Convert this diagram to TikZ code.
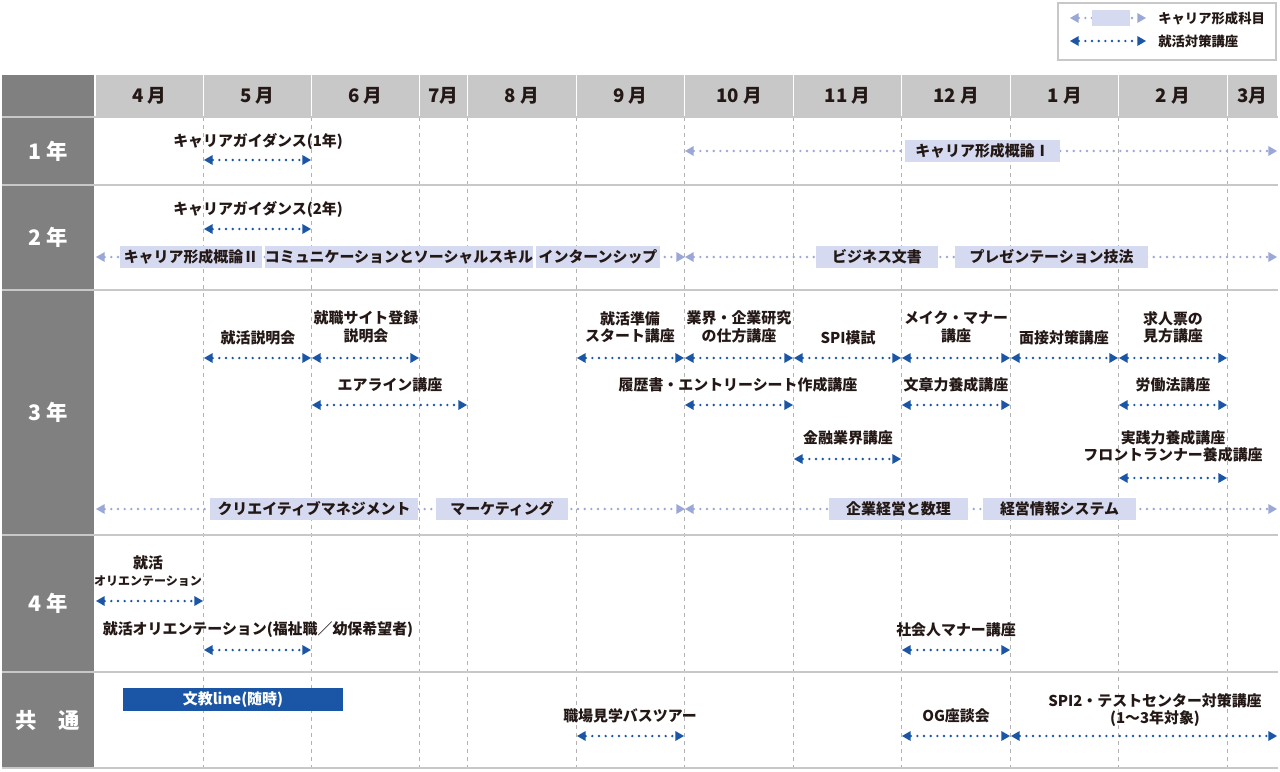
\documentclass[tikz,border=0pt]{standalone}
\usepackage{fontspec}
\setmainfont{Noto Sans CJK JP}
\usetikzlibrary{arrows.meta}
\definecolor{dblue}{HTML}{1A55A6}
\definecolor{lblue}{HTML}{9AA8D8}
\definecolor{lbox}{HTML}{D6DAF0}
\definecolor{hdr}{HTML}{C8C8C8}
\definecolor{side}{HTML}{808080}
\definecolor{txt}{HTML}{231815}
\tikzset{
 darr/.style={draw=dblue,line width=2pt,line cap=round,dash pattern=on 0pt off 5pt,{Triangle[length=6.5pt,width=7.5pt,fill=dblue,line width=0pt]}-{Triangle[length=6.5pt,width=7.5pt,fill=dblue,line width=0pt]}},
 larr/.style={draw=lblue,line width=2pt,line cap=round,dash pattern=on 0pt off 5pt,{Triangle[length=6.5pt,width=7.5pt,fill=lblue,line width=0pt]}-{Triangle[length=6.5pt,width=7.5pt,fill=lblue,line width=0pt]}},
 lab/.style={font=\bfseries\fontsize{11.2}{13}\selectfont,text=txt,align=center,inner sep=0pt},
 cbox/.style={fill=lbox,font=\bfseries\fontsize{11.2}{13}\selectfont,text=txt,inner sep=0pt,minimum height=16.5pt},
 mon/.style={font=\bfseries\fontsize{14}{14}\selectfont,text=txt},
 yr/.style={font=\bfseries\fontsize{16}{16}\selectfont,text=white},
 vl/.style={draw=gray!60,dash pattern=on 3pt off 3pt,line width=0.5pt},
}
\newcommand{\DA}[4]{\coordinate (#4a) at (#1,#3); \coordinate (#4b) at (#2,#3); \draw[darr] (#4a) -- (#4b);}
\newcommand{\LA}[4]{\coordinate (#4a) at (#1,#3); \coordinate (#4b) at (#2,#3); \draw[larr] (#4a) -- (#4b);}
\newcommand{\CB}[5]{\node[cbox,minimum width={(#2-#1)*0.75pt}] (#5) at ({(#1+#2)/2},#3) {#4};}
\begin{document}
\begin{tikzpicture}[x=0.75pt,y=-0.75pt]
\useasboundingbox (0,0) rectangle (1280,771);
\fill[white] (0,0) rectangle (1280,771);
% legend
\draw[hdr,line width=1.2pt] (1058,3) rectangle (1276,60);
\LA{1070}{1146}{18}{lg1}
\node[fill=lbox,minimum width=38*0.75pt,minimum height=12pt,inner sep=0pt] (lgb) at (1111,18) {};
\DA{1070}{1146}{41}{lg2}
\node[lab,anchor=west,font=\bfseries\fontsize{10}{11}\selectfont] (lgt1) at (1158,18) {キャリア形成科目};
\node[lab,anchor=west,font=\bfseries\fontsize{10}{11}\selectfont] (lgt2) at (1158,41) {就活対策講座};
% header
\fill[side] (2,75) rectangle (94,116);
\foreach \a/\b/\t/\n in {96/203/{4 月}/m4,204/311/{5 月}/m5,312/419/{6 月}/m6,420/467/{7月}/m7,468/576/{8 月}/m8,577/684/{9 月}/m9,685/793/{10 月}/m10,794/901/{11 月}/m11,902/1010/{12 月}/m12,1011/1118/{1 月}/m1,1119/1227/{2 月}/m2,1228/1277/{3月}/m3}{
  \fill[hdr] (\a,75) rectangle (\b,116);
  \node[mon] (\n) at ({(\a+\b)/2},96) {\t};
}
% side column
\foreach \a/\b/\t/\n in {118/184/{1 年}/y1,186/289/{2 年}/y2,291/534/{3 年}/y3,536/671/{4 年}/y4,673/767/{共　通}/y5}{
  \fill[side] (2,\a) rectangle (94,\b);
  \node[yr] (\n) at (48,{(\a+\b)/2}) {\t};
}
% vertical dashed lines
\foreach \x in {203.5,311.5,419.5,467.5,576.5,684.5,793.5,901.5,1010.5,1118.5,1227.5}{
  \draw[vl] (\x,117) -- (\x,767);
}
% row separators
\foreach \y in {117,185,290,535,672,768}{
  \draw[hdr,line width=1.5pt] (2,\y) -- (1278,\y);
}
% Row 1
\node[lab] (t1) at (258,141) {キャリアガイダンス(1年)};
\DA{204}{311}{160}{a1}
\LA{685}{1277}{151}{a2}
\CB{905}{1060}{151}{キャリア形成概論Ⅰ}{b1}
% Row 2
\node[lab] (t2) at (258,209) {キャリアガイダンス(2年)};
\DA{204}{311}{229}{a3}
\LA{96}{685}{257}{a4}
\CB{120}{262}{257}{キャリア形成概論Ⅱ}{b2}
\CB{270}{528}{257}{コミュニケーションとソーシャルスキル}{b3}
\CB{536}{660}{257}{インターンシップ}{b4}
\LA{685}{1277}{257}{a5}
\CB{816}{938}{257}{ビジネス文書}{b5}
\CB{955}{1148}{257}{プレゼンテーション技法}{b6}
% Row 3
\DA{204}{311}{358}{c1}\node[lab] (u1) at (258,338) {就活説明会};
\DA{312}{419}{358}{c2}\node[lab] (u2) at (366,327) {就職サイト登録\\説明会};
\DA{577}{684}{358}{c3}\node[lab] (u3) at (630,327) {就活準備\\スタート講座};
\DA{685}{793}{358}{c4}\node[lab] (u4) at (739,327) {業界・企業研究\\の仕方講座};
\DA{794}{901}{358}{c5}\node[lab] (u5) at (848,338) {SPI模試};
\DA{902}{1010}{358}{c6}\node[lab] (u6) at (956,327) {メイク・マナー\\講座};
\DA{1011}{1118}{358}{c7}\node[lab] (u7) at (1064,338) {面接対策講座};
\DA{1119}{1227}{358}{c8}\node[lab] (u8) at (1173,327) {求人票の\\見方講座};
\DA{312}{467}{405}{c9}\node[lab] (u9) at (390,385) {エアライン講座};
\DA{685}{793}{405}{c10}\node[lab] (u10) at (738,385) {履歴書・エントリーシート作成講座};
\DA{902}{1010}{405}{c11}\node[lab] (u11) at (956,385) {文章力養成講座};
\DA{1119}{1227}{405}{c12}\node[lab] (u12) at (1173,385) {労働法講座};
\DA{794}{901}{459}{c13}\node[lab] (u13) at (848,438) {金融業界講座};
\DA{1119}{1227}{478}{c14}\node[lab] (u14) at (1173,446) {実践力養成講座\\フロントランナー養成講座};
\LA{96}{685}{509}{c15}
\CB{210}{418}{509}{クリエイティブマネジメント}{b7}
\CB{436}{568}{509}{マーケティング}{b8}
\LA{685}{1277}{509}{c16}
\CB{829}{968}{509}{企業経営と数理}{b9}
\CB{983}{1136}{509}{経営情報システム}{b10}
% Row 4
\node[lab] (v1) at (148,563) {就活};
\node[lab,font=\bfseries\fontsize{9}{10}\selectfont] (v1b) at (148,581) {オリエンテーション};
\DA{96}{203}{601}{d1}
\node[lab] (v2) at (258,630) {就活オリエンテーション(福祉職／幼保希望者)};
\DA{204}{311}{650}{d2}
\node[lab] (v3) at (956,630) {社会人マナー講座};
\DA{902}{1010}{650}{d3}
% Common
\node[fill=dblue,text=white,font=\bfseries\fontsize{11.2}{13}\selectfont,minimum width=220*0.75pt,minimum height=23*0.75pt,inner sep=0pt] (w0) at (233,699.5) {文教line(随時)};
\node[lab] (w1) at (630,716) {職場見学バスツアー};
\DA{577}{684}{736}{e1}
\node[lab] (w2) at (956,716) {OG座談会};
\DA{902}{1010}{736}{e2}
\node[lab] (w3) at (1155,710) {SPI2・テストセンター対策講座\\(1〜3年対象)};
\DA{1011}{1277}{736}{e3}
\end{tikzpicture}
\end{document}
